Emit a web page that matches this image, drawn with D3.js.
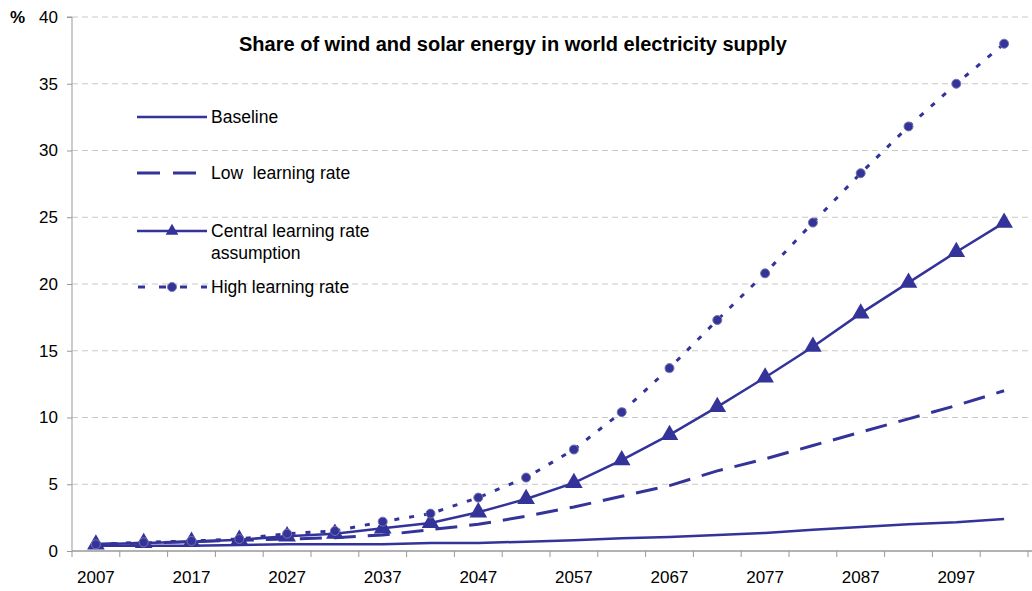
<!DOCTYPE html>
<html><head><meta charset="utf-8">
<script src="https://cdn.jsdelivr.net/npm/d3@7"></script>
<style>body{margin:0;background:#fff}svg{display:block;font-family:"Liberation Sans",Arial,sans-serif}text{white-space:pre}</style>
</head><body><svg id="c" width="1032" height="591"></svg>
<script>
const years = [2007,2012,2017,2022,2027,2032,2037,2042,2047,2052,2057,2062,2067,2072,2077,2082,2087,2092,2097,2102];
const baseline = [0.4,0.4,0.4,0.45,0.5,0.5,0.5,0.6,0.6,0.7,0.8,0.95,1.05,1.2,1.35,1.6,1.8,2.0,2.15,2.4];
const lowRate = [0.5,0.6,0.7,0.8,0.9,1.0,1.2,1.6,2.0,2.6,3.3,4.1,4.9,6.0,6.9,7.9,8.9,9.9,10.9,12.0];
const central = [0.5,0.6,0.7,0.85,1.1,1.3,1.7,2.1,2.9,3.9,5.1,6.8,8.7,10.8,13.0,15.3,17.8,20.1,22.4,24.6];
const highRate = [0.5,0.65,0.75,0.9,1.3,1.5,2.2,2.8,4.0,5.5,7.6,10.4,13.7,17.3,20.8,24.6,28.3,31.8,35.0,38.0];
const yTicks = [0,5,10,15,20,25,30,35,40];
const xLabels = [2007,2017,2027,2037,2047,2057,2067,2077,2087,2097];
const title = "Share of wind and solar energy in world electricity supply";
const legendNames = ["Baseline","Low  learning rate","Central learning rate|assumption","High learning rate"];

const col = "#333399";
const svg = d3.select("#c");
const L = 72, R = 1028, T = 17, B = 551;
const x = d3.scaleBand().domain(years).range([L, R]);
const y = d3.scaleLinear().domain([0, 40]).range([B, T]);

// grid
svg.append("g").selectAll("line").data(yTicks.filter(d => d > 0)).join("line")
  .attr("x1", L).attr("x2", 1032).attr("y1", d => y(d)).attr("y2", d => y(d))
  .attr("stroke", "#c8c8c8").attr("stroke-dasharray", "6,4").attr("stroke-width", 1);

// y axis
const ya = svg.append("g").attr("transform", `translate(${L},0)`)
  .call(d3.axisLeft(y).tickValues(yTicks).tickSize(5).tickPadding(9));
ya.select(".domain").attr("stroke", "#999").attr("d", `M-5,${T}H0V${B}`);
ya.selectAll(".tick line").attr("stroke", "#999");
ya.selectAll("text").attr("font-size", 17).attr("fill", "#000").attr("font-family", "Liberation Sans, Arial");
svg.append("text").attr("x", 10).attr("y", 23).attr("font-size", 17).attr("font-weight", "bold").text("%");

// x axis
const xa = svg.append("g").attr("transform", `translate(0,${B})`);
xa.append("line").attr("x1", L).attr("x2", R + 4).attr("stroke", "#999").attr("stroke-width", 1.5);
xa.selectAll("line.t").data(years.concat([null])).join("line").attr("class", "t")
  .attr("x1", (d, i) => L + i * x.bandwidth()).attr("x2", (d, i) => L + i * x.bandwidth())
  .attr("y1", 0).attr("y2", 6).attr("stroke", "#999");
xa.selectAll("text").data(xLabels).join("text")
  .attr("x", d => x(d) + x.bandwidth() / 2).attr("y", 32).attr("text-anchor", "middle")
  .attr("font-size", 17).text(d => d);

const line = d3.line().x((d, i) => x(years[i]) + x.bandwidth() / 2).y(d => y(d));

svg.append("path").datum(baseline).attr("d", line).attr("fill", "none").attr("stroke", col).attr("stroke-width", 2.5);
svg.append("path").datum(lowRate).attr("d", line).attr("fill", "none").attr("stroke", col).attr("stroke-width", 3).attr("stroke-dasharray", "22,12");
svg.append("path").datum(highRate).attr("d", line).attr("fill", "none").attr("stroke", col).attr("stroke-width", 3).attr("stroke-dasharray", "5,10");
svg.append("path").datum(central).attr("d", line).attr("fill", "none").attr("stroke", col).attr("stroke-width", 2.5);

const tri = d3.symbol().type(d3.symbolTriangle).size(135);
svg.append("g").selectAll("path").data(central).join("path")
  .attr("transform", (d, i) => `translate(${x(years[i]) + x.bandwidth() / 2},${y(d)})`)
  .attr("d", tri).attr("fill", col);
svg.append("g").selectAll("circle").data(highRate).join("circle")
  .attr("cx", (d, i) => x(years[i]) + x.bandwidth() / 2).attr("cy", d => y(d)).attr("r", 4.5)
  .attr("fill", col).attr("stroke", "#7777aa").attr("stroke-width", 1);

// title
svg.append("text").attr("x", 513).attr("y", 51).attr("text-anchor", "middle")
  .attr("font-size", 20).attr("font-weight", "bold").text(title);

// legend
const lg = svg.append("g");
const ly = [117, 173, 231, 287];
lg.append("line").attr("x1", 137).attr("x2", 207).attr("y1", ly[0]).attr("y2", ly[0]).attr("stroke", col).attr("stroke-width", 2.5);
lg.append("line").attr("x1", 137).attr("x2", 207).attr("y1", ly[1]).attr("y2", ly[1]).attr("stroke", col).attr("stroke-width", 3).attr("stroke-dasharray", "23,13");
lg.append("line").attr("x1", 137).attr("x2", 207).attr("y1", ly[2]).attr("y2", ly[2]).attr("stroke", col).attr("stroke-width", 2.5);
lg.append("path").attr("transform", `translate(172,${ly[2]})`).attr("d", d3.symbol().type(d3.symbolTriangle).size(70)).attr("fill", col);
lg.append("line").attr("x1", 138).attr("x2", 207).attr("y1", ly[3]).attr("y2", ly[3]).attr("stroke", col).attr("stroke-width", 3).attr("stroke-dasharray", "7,14");
lg.append("circle").attr("cx", 172).attr("cy", ly[3]).attr("r", 4.5).attr("fill", col).attr("stroke", "#7777aa");
legendNames.forEach((n, i) => {
  const parts = n.split("|");
  const t = lg.append("text").attr("x", 211).attr("y", ly[i] + 6).attr("font-size", 17.5);
  parts.forEach((p, j) => t.append("tspan").attr("x", 211).attr("dy", j ? 22 : 0).text(p));
});
</script></body></html>
